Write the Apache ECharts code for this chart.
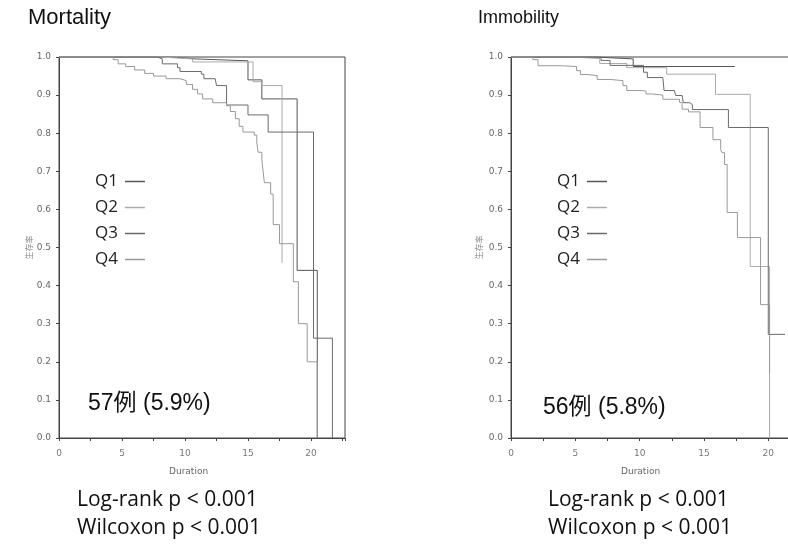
<!DOCTYPE html>
<html>
<head>
<meta charset="utf-8">
<script src="https://cdn.jsdelivr.net/npm/echarts@6/dist/echarts.min.js"></script>
<style>
html,body{margin:0;padding:0;background:#fff;}
#c{width:788px;height:546px;}
</style>
</head>
<body>
<div id="c"></div>
<script>
// ---------- Data ----------
const groups = ['Q1', 'Q2', 'Q3', 'Q4'];
const yTicks = [0, 0.1, 0.2, 0.3, 0.4, 0.5, 0.6, 0.7, 0.8, 0.9, 1.0];
const xTicks = [0, 5, 10, 15, 20];

// Mortality (left) – Kaplan–Meier steps [duration, survival]
const mortQ1 = [[0,1],[9.0,0.995],[10.8,0.99],[15.0,0.94],[16.1,0.89],[18.9,0.44],[20.5,0.0]];
const mortQ2 = [[0,1],[8.0,0.995],[10.6,0.987],[15.4,0.935],[16.1,0.925],[17.7,0.46]];
const mortQ3 = [[0,1],[7.8,0.995],[8.2,0.982],[9.4,0.972],[9.6,0.962],[11.3,0.955],[11.5,0.943],[12.4,0.938],[12.5,0.925],[13.3,0.874],[15.0,0.848],[16.6,0.803],[20.2,0.262],[21.7,0.0]];
const mortQ4 = [[0,1],[4.3,0.993],[4.7,0.982],[5.3,0.975],[6.0,0.966],[6.8,0.957],[7.5,0.950],[8.5,0.943],[9.6,0.938],[10.1,0.928],[10.6,0.915],[11.0,0.903],[11.4,0.890],[12.2,0.880],[13.3,0.872],[13.6,0.857],[14.0,0.838],[14.3,0.818],[14.6,0.803],[15.5,0.795],[15.7,0.775],[15.8,0.750],[16.1,0.730],[16.2,0.700],[16.3,0.670],[16.8,0.640],[17.0,0.560],[17.5,0.510],[18.6,0.410],[19.0,0.300],[19.7,0.200],[20.5,0.0]];

// Immobility (right)
const immQ1 = [[0,1],[6.5,0.995],[9.5,0.975],[17.4,0.975]];
const immQ2 = [[0,1],[4.6,0.996],[6.9,0.983],[9.0,0.972],[12.1,0.955],[15.9,0.902],[18.6,0.45],[20.1,0.0]];
const immQ3 = [[0,1],[7.0,0.991],[7.7,0.978],[10.3,0.96],[10.6,0.946],[11.8,0.941],[11.9,0.912],[12.7,0.907],[12.8,0.899],[13.3,0.894],[13.4,0.88],[13.9,0.875],[14.1,0.862],[16.9,0.815],[20.0,0.272],[21.3,0.272]];
const immQ4 = [[0,1],[1.7,0.993],[2.1,0.977],[3.9,0.975],[5.1,0.964],[5.4,0.954],[6.0,0.951],[6.7,0.941],[7.7,0.938],[8.7,0.925],[9.0,0.912],[10.2,0.91],[10.5,0.903],[11.0,0.90],[11.8,0.889],[13.1,0.881],[13.3,0.863],[13.8,0.856],[14.7,0.815],[15.7,0.783],[16.3,0.757],[16.4,0.749],[16.6,0.718],[16.8,0.592],[17.6,0.526],[19.4,0.35],[20.1,0.17]];

const mortSeries = [mortQ1, mortQ2, mortQ3, mortQ4];
const immSeries = [immQ1, immQ2, immQ3, immQ4];

// ---------- Styles ----------
const colors = ['#555555', '#aaaaaa', '#6a6a6a', '#999999'];
const xMax = 22.7;

function xAxis(gi) {
  return {
    gridIndex: gi, type: 'value', min: 0, max: xMax, interval: 5,
    axisLine: { show: true, lineStyle: { color: '#444', width: 1 } },
    axisTick: { show: true, length: 3, lineStyle: { color: '#444' } },
    minorTick: { show: true, splitNumber: 2, length: 3, lineStyle: { color: '#444' } },
    axisLabel: { fontSize: 9, color: '#777', margin: 11, fontFamily: 'DejaVu Sans',
      formatter: v => (xTicks.indexOf(v) >= 0 ? String(v) : '') },
    splitLine: { show: false }
  };
}
function yAxis(gi, gap) {
  return {
    gridIndex: gi, type: 'value', min: 0, max: 1, interval: 0.1,
    name: '生存率', nameLocation: 'middle', nameGap: gap, nameRotate: 90,
    nameTextStyle: { fontSize: 8, color: '#888', fontFamily: 'Noto Sans CJK JP' },
    axisLine: { show: true, lineStyle: { color: '#444', width: 1 } },
    axisTick: { show: true, length: 3, lineStyle: { color: '#444' } },
    axisLabel: { fontSize: 9, color: '#666', margin: 8, fontFamily: 'DejaVu Sans',
      formatter: v => (yTicks.some(t => Math.abs(t - v) < 1e-6) ? v.toFixed(1) : '') },
    splitLine: { show: false }
  };
}

const series = [];
groups.forEach((g, i) => {
  series.push({ name: g, type: 'line', step: 'end', xAxisIndex: 0, yAxisIndex: 0,
    data: mortSeries[i], symbol: 'none', lineStyle: { width: 1, color: colors[i] },
    itemStyle: { color: colors[i] }, animation: false });
});
groups.forEach((g, i) => {
  series.push({ name: g, type: 'line', step: 'end', xAxisIndex: 1, yAxisIndex: 1,
    data: immSeries[i], symbol: 'none', lineStyle: { width: 1, color: colors[i] },
    itemStyle: { color: colors[i] }, animation: false });
});

function legend(left) {
  return {
    data: groups, orient: 'vertical', left: left, top: 168, align: 'right',
    icon: 'rect', itemWidth: 20, itemHeight: 1.5, itemGap: 9,
    textStyle: { fontSize: 17, color: '#222', fontFamily: 'Open Sans', padding: [0, 2, 0, 0] },
    selectedMode: false
  };
}

function txt(x, y, s, size, font, color, align) {
  return { type: 'text', left: x, top: y,
    style: { text: s, fontSize: size, fontFamily: font, fill: color || '#111' } };
}

const option = {
  backgroundColor: '#ffffff',
  animation: false,
  grid: [
    { left: 59, top: 57, width: 286, height: 381, show: true, borderColor: '#444', borderWidth: 1,
      containLabel: false, outerBoundsMode: 'none' },
    { left: 511, top: 57, width: 292, height: 381, show: true, borderColor: '#444', borderWidth: 1,
      containLabel: false, outerBoundsMode: 'none' }
  ],
  xAxis: [xAxis(0), xAxis(1)],
  yAxis: [yAxis(0, 24), yAxis(1, 28)],
  legend: [legend(90), legend(552)],
  series: series,
  graphic: [
    txt(28, 7, 'Mortality', 22, 'Liberation Sans'),
    txt(478, 9, 'Immobility', 18, 'Liberation Sans'),
    txt(169, 467, 'Duration', 9, 'DejaVu Sans', '#666'),
    txt(621, 467, 'Duration', 9, 'DejaVu Sans', '#666'),
    txt(88, 392, '57例 (5.9%)', 23, 'Liberation Sans, Noto Sans CJK JP'),
    txt(543, 396, '56例 (5.8%)', 23, 'Liberation Sans, Noto Sans CJK JP'),
    txt(77, 490, 'Log-rank p < 0.001', 21, 'Open Sans'),
    txt(77, 518, 'Wilcoxon p < 0.001', 21, 'Open Sans'),
    txt(548, 490, 'Log-rank p < 0.001', 21, 'Open Sans'),
    txt(548, 518, 'Wilcoxon p < 0.001', 21, 'Open Sans')
  ]
};

const chart = echarts.init(document.getElementById('c'), null, { renderer: 'canvas' });
chart.setOption(option);
</script>
</body>
</html>
